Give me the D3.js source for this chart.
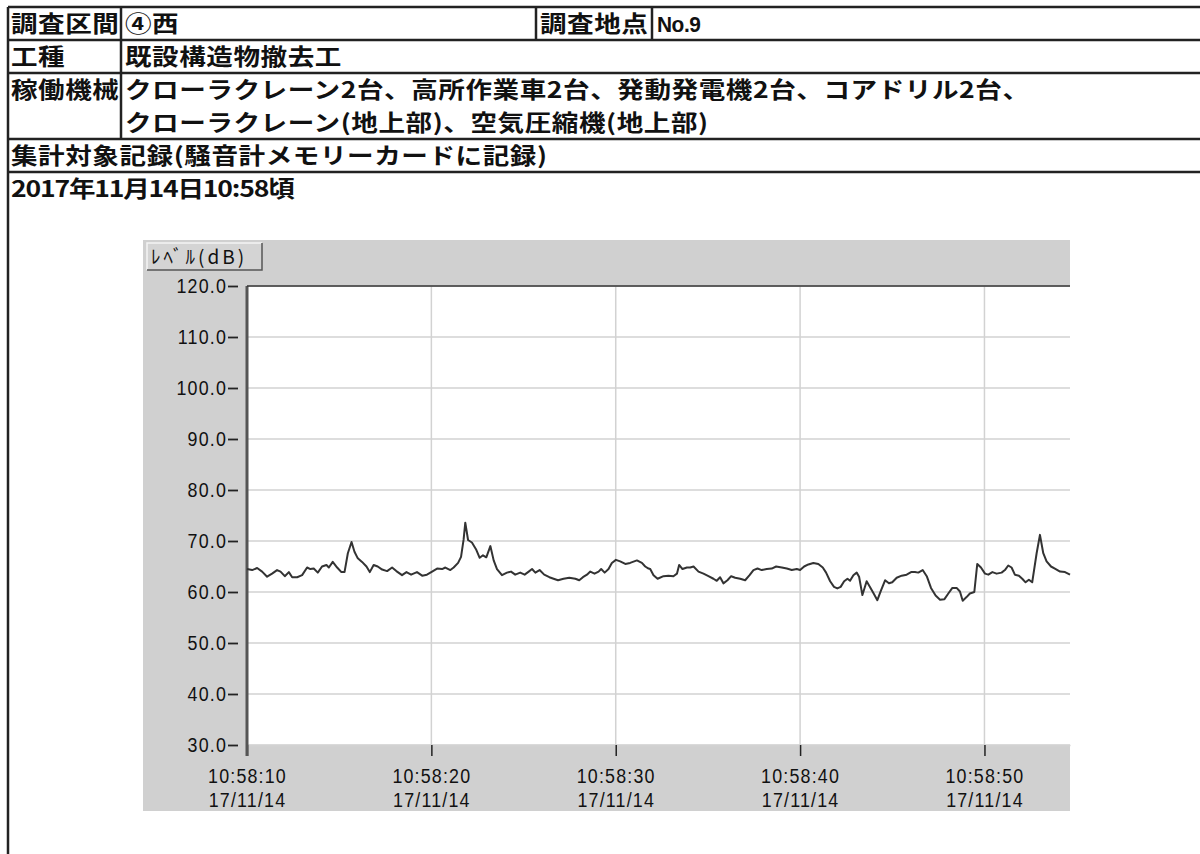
<!DOCTYPE html>
<html>
<head>
<meta charset="utf-8">
<script src="https://cdn.jsdelivr.net/npm/d3@7"></script>
<style>
  body { margin: 0; background: #fff; }
  svg { display: block; }
</style>
</head>
<body>
<div id="root"></div>
<script>
// header table text
const row1 = ['調査区間', '④西', '調査地点', 'No.9'];
const row2 = ['工種', '既設構造物撤去工'];
const row3 = ['稼働機械', 'クローラクレーン2台、高所作業車2台、発動発電機2台、コアドリル2台、', 'クローラクレーン(地上部)、空気圧縮機(地上部)'];
const row4 = ['集計対象記録(騒音計メモリーカードに記録)'];
const recordTime = '2017年11月14日10:58頃';

// chart labels / ticks
const yTitle = 'ﾚﾍﾞﾙ(dB)';
const yTicks = [30, 40, 50, 60, 70, 80, 90, 100, 110, 120];
const xTickSec = [0, 10, 20, 30, 40];
const xTickTimes = ['10:58:10', '10:58:20', '10:58:30', '10:58:40', '10:58:50'];
const xTickDate = '17/11/14';
const startTime = '2017-11-14T10:58:10';
const endSec = 44.64;

// level readings, seconds after 10:58:10
const seconds = [
  0.00, 0.28, 0.55, 0.82, 1.09, 1.36, 1.63, 1.82, 2.05, 2.27, 2.45, 2.72, 2.99, 3.26, 3.44, 3.62, 3.84,
  4.07, 4.31, 4.44, 4.65, 4.89, 5.12, 5.29, 5.47, 5.67, 5.83, 6.01, 6.24, 6.48, 6.66, 6.87, 7.09, 7.33,
  7.60, 7.87, 8.10, 8.41, 8.65, 8.90, 9.22, 9.50, 9.76, 10.04, 10.31, 10.58,
  10.76, 11.03, 11.21, 11.45, 11.61, 11.75, 11.84, 11.99, 12.20, 12.42, 12.62, 12.80, 12.98, 13.20, 13.38,
  13.56, 13.83, 14.10, 14.32, 14.55, 14.82, 15.06, 15.28, 15.46, 15.64, 15.87, 16.12, 16.40, 16.63, 16.87,
  17.17, 17.48, 17.81, 18.02, 18.22, 18.44, 18.62, 18.85, 19.07, 19.21, 19.40, 19.61, 19.79, 20.01, 20.24,
  20.52, 20.78, 21.15, 21.42, 21.60, 21.78,
  21.87, 22.05, 22.27, 22.59, 22.86, 23.13, 23.32, 23.44, 23.62, 23.86, 24.04, 24.22, 24.49, 24.76, 25.03,
  25.30, 25.48, 25.66, 25.84, 26.06, 26.26, 26.48, 26.75, 27.02, 27.26, 27.47, 27.69, 27.92, 28.19, 28.46,
  28.70, 29.01, 29.28, 29.55, 29.82, 30.00, 30.22, 30.45, 30.72, 30.99, 31.23, 31.41, 31.63, 31.84, 32.02,
  32.20, 32.39, 32.57, 32.71, 32.89, 33.07,
  33.20, 33.38, 33.61, 33.79, 33.99, 34.19, 34.39, 34.61, 34.82, 35.00, 35.24, 35.51, 35.78, 36.02, 36.23,
  36.41, 36.65, 36.87, 37.10, 37.35, 37.59, 37.83, 38.04, 38.26, 38.49, 38.67, 38.82, 39.03, 39.21, 39.45,
  39.61, 39.81, 40.03, 40.21, 40.43, 40.66, 40.93, 41.11, 41.29, 41.47, 41.65, 41.87, 42.05, 42.23, 42.41,
  42.59, 42.83, 43.01, 43.19, 43.37, 43.61, 43.82, 44.10, 44.37, 44.64
];
const levels = [
  64.5, 64.3, 64.7, 64.0, 63.0, 63.6, 64.3, 64.0, 63.1, 63.9, 62.9, 62.9, 63.3, 64.8, 64.5, 64.6, 63.8,
  65.0, 65.3, 64.8, 65.9, 64.8, 63.9, 63.9, 67.6, 69.8, 67.9, 66.6, 65.9, 65.0, 63.9, 65.3, 65.0, 64.4,
  64.1, 64.8, 64.1, 63.3, 63.9, 63.4, 63.9, 63.2, 63.4, 64.0, 64.6, 64.5,
  64.8, 64.3, 64.8, 65.7, 66.9, 70.3, 73.6, 70.2, 69.7, 68.4, 66.7, 67.2, 66.8, 69.0, 66.2,
  64.5, 63.3, 63.8, 64.0, 63.4, 63.8, 63.4, 64.0, 64.5, 63.8, 64.3, 63.4, 62.9, 62.6, 62.3,
  62.6, 62.8, 62.6, 62.3, 62.9, 63.4, 64.0, 63.6, 64.0, 64.5, 63.8, 64.5, 65.7, 66.3, 66.0,
  65.5, 65.7, 66.2, 65.7, 65.0, 64.6,
  64.5, 63.3, 62.6, 63.1, 63.2, 63.1, 63.6, 65.3, 64.5, 64.8, 64.8, 65.0, 64.0, 63.6, 63.1,
  62.6, 62.2, 62.9, 61.7, 62.3, 63.1, 62.8, 62.6, 62.3, 63.3, 64.3, 64.6, 64.3, 64.5, 64.6,
  65.0, 64.8, 64.6, 64.3, 64.5, 64.3, 65.0, 65.4, 65.7, 65.5, 64.8, 63.8, 62.1, 61.0, 60.7,
  61.0, 62.1, 62.6, 62.2, 63.3, 63.8,
  63.0, 59.4, 62.1, 61.0, 59.7, 58.4, 60.3, 62.3, 61.7, 61.9, 62.8, 63.2, 63.4, 63.9, 63.9,
  63.8, 64.3, 63.1, 60.8, 59.3, 58.5, 58.6, 59.7, 60.8, 60.8, 60.1, 58.3, 59.0, 59.7, 60.0,
  65.5, 64.8, 63.6, 63.4, 63.9, 63.6, 63.8, 64.3, 65.2, 64.8, 63.4, 63.2, 62.6, 61.9, 62.4,
  61.9, 67.6, 71.2, 67.6, 66.0, 65.0, 64.6, 64.0, 63.9, 63.4
];

const width = 1200;
const height = 854;
const jpFont = "'Noto Sans CJK JP', sans-serif";
const latinFont = "'Liberation Sans', Arial, sans-serif";
const tickSquash = 0.85;  // narrow, tall tick digits

const svg = d3.select('#root')
    .append('svg')
    .attr('width', width)
    .attr('height', height)
    .style('background', '#fff');

// ---------- header table ----------
const tableLeft = 8;
const rowY = [7, 40, 73, 139, 172];
const colX = 121;
const stretch = 1.18;   // the header lettering is wider than it is tall
const head = svg.append('g')
    .attr('font-family', jpFont)
    .attr('font-weight', 700)
    .attr('font-size', 22.5)
    .attr('letter-spacing', 0.5)
    .attr('fill', '#111');

const hLine = (x1, x2, yy) => head.append('line')
    .attr('x1', x1).attr('x2', x2).attr('y1', yy).attr('y2', yy)
    .attr('stroke', '#222').attr('stroke-width', 2.5);
const vLine = (xx, y1, y2) => head.append('line')
    .attr('x1', xx).attr('x2', xx).attr('y1', y1).attr('y2', y2)
    .attr('stroke', '#222').attr('stroke-width', 2.5);

rowY.forEach(yy => hLine(tableLeft, width, yy));
vLine(tableLeft, rowY[0], height);
vLine(colX, rowY[0], rowY[3]);
vLine(536, rowY[0], rowY[1]);
vLine(652, rowY[0], rowY[1]);

const txt = (s, xx, yy, sx = stretch) => head.append('text')
    .attr('transform', `translate(${xx},${yy}) scale(${sx},1)`)
    .text(s);
txt(row1[0], 11, 32);
txt(row1[1], 125, 32);
txt(row1[2], 540, 32);
txt(row1[3], 657, 32, 0.95)
    .attr('font-family', latinFont)
    .attr('font-size', 22)
    .attr('letter-spacing', -0.5);
txt(row2[0], 11, 65);
txt(row2[1], 125, 65);
txt(row3[0], 11, 98);
txt(row3[1], 125, 98);
txt(row3[2], 125, 131);
txt(row4[0], 11, 164);
txt(recordTime, 11, 197).attr('letter-spacing', -1);

// ---------- chart panel ----------
const panel = { left: 143, top: 240, right: 1070, bottom: 811 };
const plot = { left: 247, top: 286, right: 1070, bottom: 745 };

svg.append('rect')
    .attr('x', panel.left).attr('y', panel.top)
    .attr('width', panel.right - panel.left).attr('height', panel.bottom - panel.top)
    .attr('fill', '#d0d0d0');

svg.append('rect')
    .attr('x', plot.left).attr('y', plot.top)
    .attr('width', plot.right - plot.left).attr('height', plot.bottom - plot.top)
    .attr('fill', '#fff');

// y title button
const btn = svg.append('g');
btn.append('rect').attr('x', 147).attr('y', 243).attr('width', 115).attr('height', 27)
    .attr('fill', '#d4d4d4');
btn.append('path').attr('d', 'M147,270 V243 H262').attr('fill', 'none').attr('stroke', '#f4f4f4').attr('stroke-width', 1.5);
btn.append('path').attr('d', 'M147,270 H262 V243').attr('fill', 'none').attr('stroke', '#555').attr('stroke-width', 1.5);
btn.append('text').attr('x', 151).attr('y', 264)
    .attr('font-family', jpFont).attr('font-size', 19).attr('letter-spacing', 3).attr('fill', '#111')
    .text(yTitle);

// scales
const t0 = new Date(startTime);
const toDate = s => new Date(t0.getTime() + s * 1000);
const x = d3.scaleTime().domain([t0, toDate(endSec)]).range([plot.left, plot.right]);
const y = d3.scaleLinear().domain([30, 120]).range([plot.bottom, plot.top]);

// grid
svg.append('g')
    .selectAll('line')
    .data(yTicks)
    .join('line')
    .attr('x1', plot.left).attr('x2', plot.right)
    .attr('y1', d => y(d)).attr('y2', d => y(d))
    .attr('stroke', '#d2d2d2').attr('stroke-width', 1.5);
svg.append('g')
    .selectAll('line')
    .data(xTickSec.slice(1))
    .join('line')
    .attr('x1', d => x(toDate(d))).attr('x2', d => x(toDate(d)))
    .attr('y1', plot.top).attr('y2', plot.bottom)
    .attr('stroke', '#d2d2d2').attr('stroke-width', 1.5);

const tickText = sel => sel
    .attr('font-family', latinFont)
    .attr('font-size', 21)
    .attr('letter-spacing', 1.4)
    .attr('fill', '#111');

// y axis: labels carry a short dash, set off from the axis line
const yAxis = d3.axisLeft(y)
    .tickValues(yTicks)
    .tickFormat(d => d.toFixed(1))
    .tickSize(0)
    .tickSizeOuter(0)
    .tickPadding(21);
const gy = svg.append('g')
    .attr('transform', `translate(${plot.left},0)`)
    .call(yAxis);
gy.select('.domain').remove();
gy.selectAll('.tick line')
    .attr('x1', -9).attr('x2', -19)
    .attr('stroke', '#222').attr('stroke-width', 1.8);
gy.selectAll('.tick text')
    .attr('x', -20 / tickSquash)
    .attr('transform', `scale(${tickSquash},1)`)
    .call(tickText);

// x axis (time on first line, date as its own text below)
const xAxis = d3.axisBottom(x)
    .tickValues(xTickSec.map(toDate))
    .tickFormat((d, i) => xTickTimes[i])
    .tickSize(11)
    .tickSizeOuter(0)
    .tickPadding(12);
const gx = svg.append('g')
    .attr('transform', `translate(0,${plot.bottom})`)
    .call(xAxis);
gx.select('.domain').attr('stroke', '#d2d2d2').attr('stroke-width', 1.5);
gx.selectAll('.tick line').attr('stroke', '#222').attr('stroke-width', 1.5);
gx.selectAll('.tick text')
    .attr('transform', `scale(${tickSquash},1)`)
    .call(tickText);
gx.selectAll('.tick')
    .append('text')
    .attr('y', 62)
    .attr('transform', `scale(${tickSquash},1)`)
    .attr('text-anchor', 'middle')
    .call(tickText)
    .text(xTickDate);

// left axis line and plot top border
svg.append('line')
    .attr('x1', plot.left).attr('x2', plot.left)
    .attr('y1', plot.top).attr('y2', plot.bottom + 11)
    .attr('stroke', '#555').attr('stroke-width', 3);
svg.append('line')
    .attr('x1', plot.left).attr('x2', plot.right)
    .attr('y1', plot.top).attr('y2', plot.top)
    .attr('stroke', '#333').attr('stroke-width', 1.5);

// level line
const data = seconds.map((s, i) => ({ t: toDate(s), v: levels[i] }));
const line = d3.line()
    .x(d => x(d.t))
    .y(d => y(d.v));
svg.append('path')
    .datum(data)
    .attr('d', line)
    .attr('fill', 'none')
    .attr('stroke', '#333')
    .attr('stroke-width', 2)
    .attr('stroke-linejoin', 'round');
</script>
</body>
</html>
